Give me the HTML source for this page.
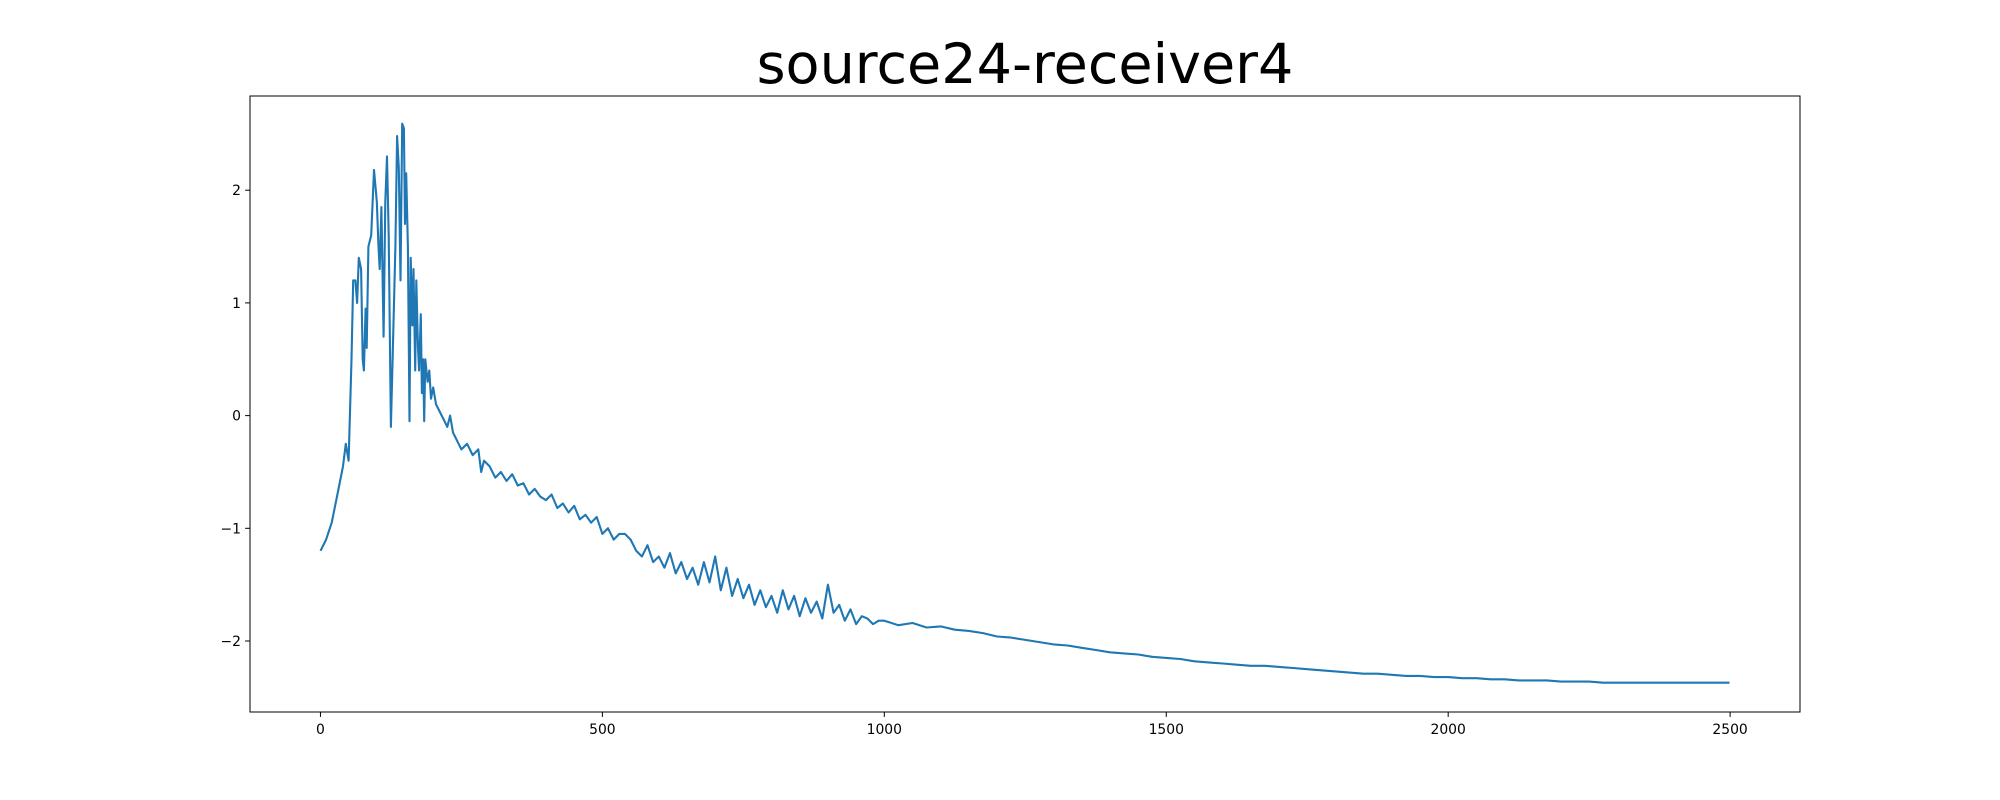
<!DOCTYPE html>
<html><head><meta charset="utf-8"><style>
html,body{margin:0;padding:0;background:#fff;}
svg{display:block;font-family:"DejaVu Sans","Liberation Sans",sans-serif;}
</style></head><body>
<svg id="chart" width="2000" height="800" viewBox="0 0 2000 800" xmlns="http://www.w3.org/2000/svg">
<rect width="2000" height="800" fill="#fff"/>
<text x="1025" y="83" font-size="55.6" text-anchor="middle" fill="#000">source24-receiver4</text>
<g id="ticks"></g>
<polyline id="series" fill="none" stroke="#1f77b4" stroke-width="2.1" stroke-linejoin="round"/>
<rect x="250" y="96" width="1550" height="616" fill="none" stroke="#000" stroke-width="1"/>
</svg>
<script>
const xTicks = [0, 500, 1000, 1500, 2000, 2500];
const yTicks = [-2, -1, 0, 1, 2];
const xs = [0,10,20,30,40,45,50,55,58,62,65,68,72,75,77,80,82,85,90,95,100,103,105,108,112,115,118,121,125,128,133,136,139,142,145,148,150,152,155,158,160,163,165,168,170,173,175,178,180,182,184,186,190,193,196,200,205,210,215,220,225,230,235,240,245,250,260,270,280,285,290,
300,310,320,330,340,350,360,370,380,390,400,410,420,430,440,450,460,470,480,490,500,510,520,530,540,550,560,570,580,590,600,610,620,630,640,650,660,670,680,690,700,710,720,730,740,750,760,770,780,790,800,810,820,830,840,850,860,870,880,890,900,910,920,930,940,950,960,970,980,990,1000,
1025,1050,1075,1100,1125,1150,1175,1200,1225,1250,1275,1300,1325,1350,1375,1400,1425,1450,1475,1500,1525,1550,1575,1600,1625,1650,1675,1700,1725,1750,1775,1800,1825,1850,1875,1900,1925,1950,1975,2000,2025,2050,2075,2100,2125,2150,2175,2200,2225,2250,2275,2300,2325,2350,2375,2400,2425,2450,2475,2499];
const ys = [-1.2,-1.1,-0.95,-0.7,-0.45,-0.25,-0.4,0.5,1.2,1.2,1.0,1.4,1.3,0.5,0.4,0.95,0.6,1.5,1.6,2.18,1.9,1.5,1.3,1.85,0.7,1.9,2.3,1.6,-0.1,0.5,1.5,2.48,2.2,1.2,2.59,2.55,1.7,2.15,1.5,-0.05,1.4,0.8,1.3,0.4,1.2,0.6,0.4,0.9,0.2,0.5,-0.05,0.5,0.3,0.4,0.15,0.25,0.1,0.05,0.0,-0.05,-0.1,0.0,-0.15,-0.2,-0.25,-0.3,-0.25,-0.35,-0.3,-0.5,-0.4,
-0.45,-0.55,-0.5,-0.58,-0.52,-0.62,-0.6,-0.7,-0.65,-0.72,-0.75,-0.7,-0.82,-0.78,-0.86,-0.8,-0.92,-0.88,-0.95,-0.9,-1.05,-1.0,-1.1,-1.05,-1.05,-1.1,-1.2,-1.25,-1.15,-1.3,-1.25,-1.35,-1.22,-1.4,-1.3,-1.45,-1.35,-1.5,-1.3,-1.48,-1.25,-1.55,-1.35,-1.6,-1.45,-1.62,-1.5,-1.68,-1.55,-1.7,-1.6,-1.75,-1.55,-1.72,-1.6,-1.78,-1.62,-1.75,-1.65,-1.8,-1.5,-1.75,-1.68,-1.82,-1.72,-1.85,-1.78,-1.8,-1.85,-1.82,-1.82,
-1.86,-1.84,-1.88,-1.87,-1.9,-1.91,-1.93,-1.96,-1.97,-1.99,-2.01,-2.03,-2.04,-2.06,-2.08,-2.1,-2.11,-2.12,-2.14,-2.15,-2.16,-2.18,-2.19,-2.2,-2.21,-2.22,-2.22,-2.23,-2.24,-2.25,-2.26,-2.27,-2.28,-2.29,-2.29,-2.3,-2.31,-2.31,-2.32,-2.32,-2.33,-2.33,-2.34,-2.34,-2.35,-2.35,-2.35,-2.36,-2.36,-2.36,-2.37,-2.37,-2.37,-2.37,-2.37,-2.37,-2.37,-2.37,-2.37,-2.37];

const X0=250, X1=1800, Y0=96, Y1=712;
const xMin=-124.95, xMax=2623.95, yMin=-2.63, yMax=2.836;
function sx(v){return X0+(v-xMin)/(xMax-xMin)*(X1-X0);}
function sy(v){return Y1-(v-yMin)/(yMax-yMin)*(Y1-Y0);}
const NS="http://www.w3.org/2000/svg";
const g=document.getElementById('ticks');
xTicks.forEach(t=>{
  const l=document.createElementNS(NS,'line');
  
  
  l.setAttribute('x1',sx(t));l.setAttribute('x2',sx(t));l.setAttribute('y1',Y1);l.setAttribute('y2',Y1+4.9);l.setAttribute('stroke','#000');
  g.appendChild(l);
  const tx=document.createElementNS(NS,'text');
  
  
  tx.setAttribute('x',sx(t));tx.setAttribute('y',Y1+22);tx.setAttribute('font-size','13.9');tx.setAttribute('text-anchor','middle');
  tx.textContent=String(t);g.appendChild(tx);
});
yTicks.forEach(t=>{
  const l=document.createElementNS(NS,'line');
  
  
  l.setAttribute('x1',X0-4.9);l.setAttribute('x2',X0);l.setAttribute('y1',sy(t));l.setAttribute('y2',sy(t));l.setAttribute('stroke','#000');
  g.appendChild(l);
  const tx=document.createElementNS(NS,'text');
  
  
  tx.setAttribute('x',X0-9);tx.setAttribute('y',sy(t)+5);tx.setAttribute('font-size','13.9');tx.setAttribute('text-anchor','end');
  tx.textContent=(t<0?'\u2212'+Math.abs(t):String(t));g.appendChild(tx);
});
document.getElementById('series').setAttribute('points',xs.map((x,i)=>sx(x).toFixed(1)+','+sy(ys[i]).toFixed(1)).join(' '));
</script>
</body></html>
